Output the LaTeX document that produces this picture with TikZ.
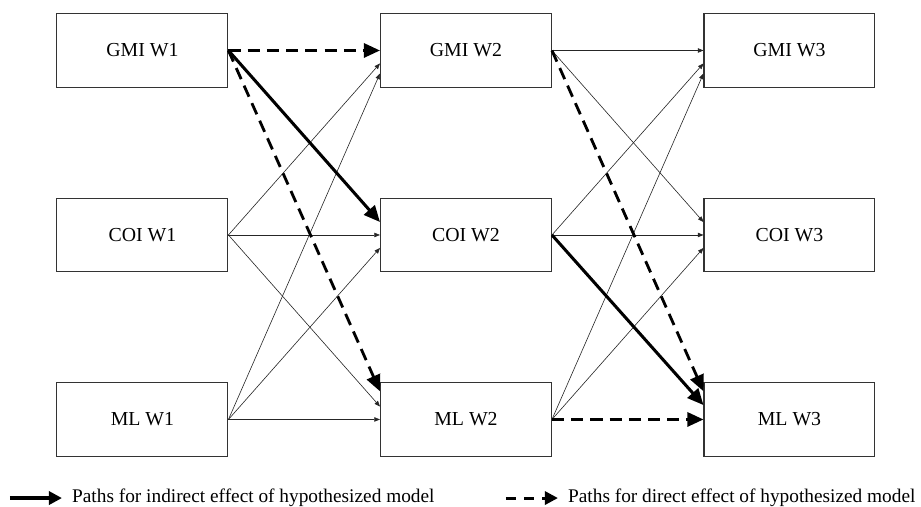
\documentclass[tikz,border=0pt]{standalone}
\usepackage{fontspec}
\setmainfont{Liberation Serif}
\usepackage{tikz}
\usetikzlibrary{positioning, arrows.meta}

\begin{document}
\begin{tikzpicture}[
    varbox/.style={rectangle, draw=black!80, line width=0.5pt, minimum height=1.27cm, minimum width=2.97cm, align=center, font=\fontsize{9.8}{11}\selectfont},
    legtext/.style={inner sep=0.17cm, font=\fontsize{9.55}{11}\selectfont},
    lnk/.style={-{Triangle[length=2.8pt, width=2.2pt]}, line width=0.3pt, black!85},
    indirect/.style={-{Triangle[length=8pt, width=7pt]}, line width=1.5pt},
    direct/.style={-{Triangle[length=8pt, width=7pt]}, line width=1.4pt, dash pattern=on 6pt off 3.5pt},
    legind/.style={-{Triangle[length=6.5pt, width=6.5pt]}, line width=1.6pt},
    legdir/.style={-{Triangle[length=6.5pt, width=6.5pt]}, line width=1.5pt, dash pattern=on 5pt off 4pt},
]
\useasboundingbox (-8.095,-4.725) rectangle (7.905,4.082);

% wave 1
\node[varbox] (gmi1) at (-5.62, 3.205) {GMI W1};
\node[varbox] (coi1) at (-5.62, 0) {COI W1};
\node[varbox] (ml1) at (-5.62, -3.205) {ML W1};

% wave 2
\node[varbox] (gmi2) at (0, 3.205) {GMI W2};
\node[varbox] (coi2) at (0, 0) {COI W2};
\node[varbox] (ml2) at (0, -3.205) {ML W2};

% wave 3
\node[varbox] (gmi3) at (5.62, 3.205) {GMI W3};
\node[varbox] (coi3) at (5.62, 0) {COI W3};
\node[varbox] (ml3) at (5.62, -3.205) {ML W3};

% W1 -> W2
\draw[lnk] (coi1.east) -- ([yshift=-0.225cm]gmi2.west);
\draw[lnk] (coi1.east) -- (coi2.west);
\draw[lnk] (coi1.east) -- ([yshift=0.225cm]ml2.west);
\draw[lnk] (ml1.east) -- ([yshift=-0.40cm]gmi2.west);
\draw[lnk] (ml1.east) -- ([yshift=-0.225cm]coi2.west);
\draw[lnk] (ml1.east) -- (ml2.west);
\draw[direct] (gmi1.east) -- (gmi2.west);
\draw[indirect] (gmi1.east) -- ([yshift=0.225cm]coi2.west);
\draw[direct] (gmi1.east) -- ([yshift=0.49cm]ml2.west);

% W2 -> W3
\draw[lnk] (gmi2.east) -- (gmi3.west);
\draw[lnk] (gmi2.east) -- ([yshift=0.225cm]coi3.west);
\draw[lnk] (coi2.east) -- ([yshift=-0.225cm]gmi3.west);
\draw[lnk] (coi2.east) -- (coi3.west);
\draw[lnk] (ml2.east) -- ([yshift=-0.40cm]gmi3.west);
\draw[lnk] (ml2.east) -- ([yshift=-0.225cm]coi3.west);
\draw[direct] (gmi2.east) -- ([yshift=0.49cm]ml3.west);
\draw[indirect] (coi2.east) -- ([yshift=0.25cm]ml3.west);
\draw[direct] (ml2.east) -- (ml3.west);

% legend
\coordinate (indleg) at (-7.922, -4.57);
\node[legtext, anchor=west] (indtext) at (-7.018, -4.57) {Paths for indirect effect of hypothesized model};
\draw[legind] (indleg) -- (indtext.west);

\coordinate (dirleg) at (0.695, -4.57);
\node[legtext, anchor=west] (dirtext) at (1.598, -4.57) {Paths for direct effect of hypothesized model};
\draw[legdir] (dirleg) -- (dirtext.west);

\end{tikzpicture}
\end{document}
